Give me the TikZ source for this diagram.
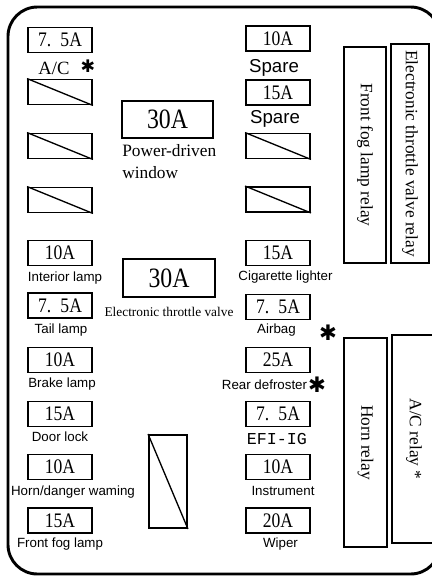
\documentclass[tikz,border=0pt]{standalone}
\usepackage{fontspec}
\setmainfont{Liberation Serif}
\setsansfont{Liberation Sans}
\newfontfamily\ratingfont[FakeStretch=0.85]{Liberation Serif}
\newfontfamily\efifont{Liberation Mono}
\newfontfamily\starfont{DejaVu Sans}

\begin{document}
\begin{tikzpicture}[x=0.75pt,y=-0.75pt,
    fuse/.style={draw,line width=1.4pt,minimum width=48pt,minimum height=18.75pt,inner sep=0pt,
      font=\ratingfont\fontsize{15.5}{16}\selectfont},
    bigfuse/.style={draw,line width=1.4pt,inner sep=0pt,font=\ratingfont\fontsize{21}{22}\selectfont},
    lbl/.style={inner sep=0pt,font=\sffamily\fontsize{10}{12}\selectfont},
    spare/.style={inner sep=0pt,font=\sffamily\fontsize{14}{16}\selectfont},
    relay/.style={draw,line width=1.6pt,rotate=-90,inner sep=0pt,font=\fontsize{13}{15}\selectfont},
    star/.style={inner sep=0pt,font=\starfont\fontsize{13}{13}\selectfont}]
  \useasboundingbox (0,0) rectangle (432,576);
  % outer frame of the box
  \draw[line width=2.2pt,rounded corners=22pt] (8,7) rectangle (440,574);

  % left column
  \node[fuse] (l1) at (60,40) {7.\hspace{.45em}5A};
  \node[inner sep=0pt,font=\fontsize{14}{16}\selectfont] (l1t) at (54,68) {A/C};
  \node[star] (l1s) at (88,66) {✱};
  \node[fuse] (bl1) at (60,92) {};
  \node[fuse] (bl2) at (60,146) {};
  \node[fuse] (bl3) at (60,200) {};
  \node[fuse] (l2) at (60,253) {10A};
  \node[lbl] (l2t) at (65,278) {Interior lamp};
  \node[fuse] (l3) at (60,305.5) {7.\hspace{.45em}5A};
  \node[lbl] (l3t) at (61,330) {Tail lamp};
  \node[fuse] (l4) at (60,360) {10A};
  \node[lbl] (l4t) at (62,384) {Brake lamp};
  \node[fuse] (l5) at (60,414) {15A};
  \node[lbl] (l5t) at (60,437) {Door lock};
  \node[fuse] (l6) at (60,467) {10A};
  \node[lbl] (l6t) at (73,492) {Horn/danger waming};
  \node[fuse] (l7) at (60,520.5) {15A};
  \node[lbl] (l7t) at (60,544) {Front fog lamp};

  % middle
  \node[bigfuse,minimum width=68.25pt,minimum height=27.75pt] (m1) at (167.5,119.5) {30A};
  \node[anchor=west,align=left,inner sep=0pt,font=\fontsize{13}{17}\selectfont] (m1t) at (122,161.5) {Power-driven\\window};
  \node[bigfuse,minimum width=69pt,minimum height=28.5pt] (m2) at (169,278) {30A};
  \node[inner sep=0pt,font=\fontsize{10}{12}\selectfont] (m2t) at (169,312) {Electronic throttle valve};
  \node[draw,line width=1.4pt,minimum width=28.5pt,minimum height=69.75pt,inner sep=0pt] (bv) at (168,481.5) {};

  % right column
  \node[fuse] (r1) at (278,38.5) {10A};
  \node[spare] (r1t) at (274,68) {Spare};
  \node[fuse] (r2) at (278,92.5) {15A};
  \node[spare] (r2t) at (275,119) {Spare};
  \node[fuse] (br1) at (278,146) {};
  \node[fuse] (br2) at (278,199.5) {};
  \node[fuse] (r3) at (278,253) {15A};
  \node[lbl] (r3t) at (285.5,277) {Cigarette lighter};
  \node[fuse] (r4) at (278,307) {7.\hspace{.45em}5A};
  \node[lbl] (r4t) at (276.5,330) {Airbag};
  \node[star,font=\starfont\fontsize{16}{16}\selectfont] (r4s) at (328,333) {✱};
  \node[fuse] (r5) at (278,360) {25A};
  \node[lbl] (r5t) at (264.5,385) {Rear defroster};
  \node[star,font=\starfont\fontsize{16}{16}\selectfont] (r5s) at (317,385) {✱};
  \node[fuse] (r6) at (278,414) {7.\hspace{.45em}5A};
  \node[inner sep=0pt,font=\efifont\fontsize{12.5}{14}\selectfont] (r6t) at (277,439) {EFI-IG};
  \node[fuse] (r7) at (278,467) {10A};
  \node[lbl] (r7t) at (283,491) {Instrument};
  \node[fuse] (r8) at (278,520.5) {20A};
  \node[lbl] (r8t) at (280.5,544) {Wiper};

  % relays
  \node[relay,minimum width=162pt,minimum height=31.5pt] (fogrelay) at (365,155) {Front fog lamp relay};
  \node[relay,minimum width=164.25pt,minimum height=28.5pt] (etvrelay) at (410,153.5) {Electronic throttle valve relay};
  \node[relay,minimum width=156.75pt,minimum height=32.25pt] (hornrelay) at (365.5,442.5) {Horn relay};
  \node[relay,minimum width=156pt,minimum height=33pt] (acrelay) at (414,439) {A/C relay *};

  % empty slots
  \foreach \n in {bl1,bl2,bl3,br1,br2,bv}
    \draw[line width=1pt] (\n.north west) -- (\n.south east);
\end{tikzpicture}
\end{document}
